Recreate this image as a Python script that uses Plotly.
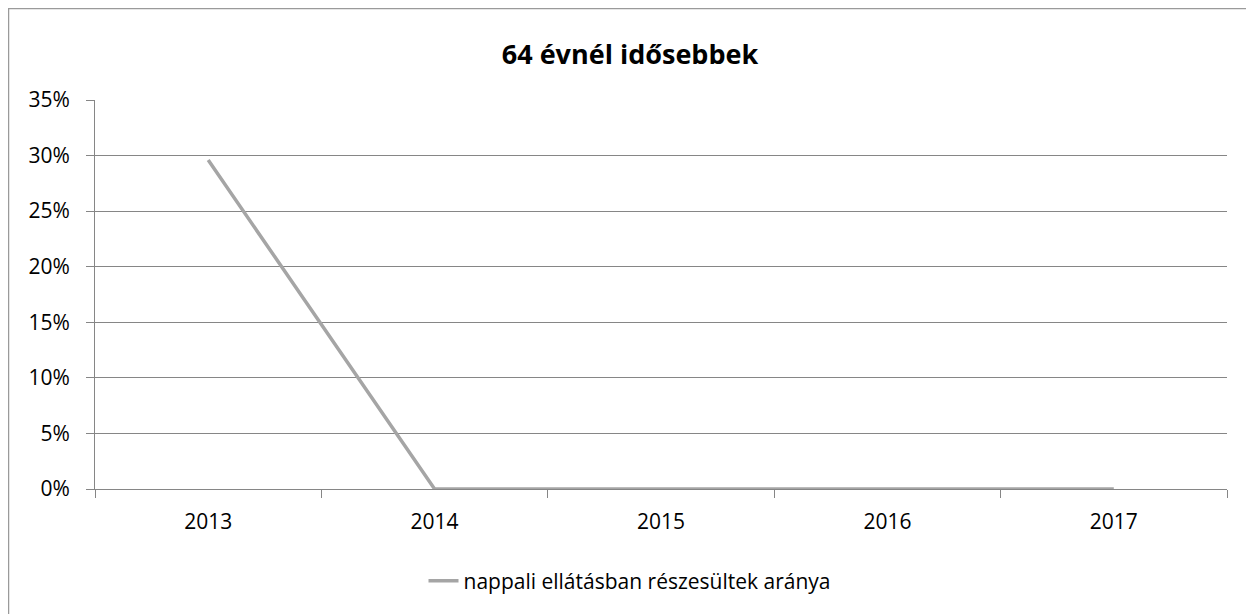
import plotly.graph_objects as go

years = ["2013", "2014", "2015", "2016", "2017"]
values = [0.296, 0.0, 0.0, 0.0, 0.0]
series_name = "nappali ellátásban részesültek aránya"
title = "64 évnél idősebbek"
y_ticks = [0, 0.05, 0.10, 0.15, 0.20, 0.25, 0.30, 0.35]

# page has an 8px body margin; figure coordinates are page coordinates - 8
W, H = 1246, 606
L, T = 87, 92
pw, ph = 1132, 389
R, B = W - L - pw, H - T - ph
bottom = T + ph

font = "Open Sans, Noto Sans, sans-serif"
tick_size = 21

fig = go.Figure()
fig.add_trace(go.Scatter(
    x=years, y=values, mode="lines", name=series_name,
    line=dict(color="#A5A5A5", width=3.5),
))

fig.update_layout(
    width=W, height=H,
    margin=dict(l=L, r=R, t=T, b=B, autoexpand=False),
    paper_bgcolor="white", plot_bgcolor="white",
    title=dict(text="<b>" + title + "</b>", x=622 / W, xanchor="center",
               y=1 - 47 / H, yanchor="middle",
               font=dict(family=font, size=27, color="black")),
    showlegend=True,
    legend=dict(orientation="h", x=(622 - L) / pw, xanchor="center",
                y=(bottom - 573) / ph, yanchor="middle",
                font=dict(family=font, size=tick_size, color="black"),
                bgcolor="rgba(0,0,0,0)"),
    font=dict(family=font, size=tick_size, color="black"),
)

fig.update_xaxes(
    type="category", tickson="boundaries", ticks="outside", ticklen=8,
    tickcolor="#868686", showline=True, linecolor="#868686", linewidth=1,
    showgrid=False, tickfont=dict(family=font, size=tick_size, color="black"),
    range=[-0.5, 4.5], ticklabelstandoff=14,
)
fig.update_yaxes(
    range=[0, 0.35], tickvals=y_ticks, tickformat=".0%",
    ticks="outside", ticklen=8, tickcolor="#868686",
    showline=True, linecolor="#868686", linewidth=1,
    showgrid=True, gridcolor="#868686", gridwidth=1, zeroline=False,
    tickfont=dict(family=font, size=tick_size, color="black"),
    ticklabelstandoff=12,
)

# outer chart border (left and top edges visible)
fig.add_shape(type="rect", xref="paper", yref="paper",
              x0=(0.5 - L) / pw, x1=(1400 - L) / pw,
              y0=(bottom - 700) / ph, y1=(bottom - 0.5) / ph,
              line=dict(color="#9A9A9A", width=1.5), fillcolor="rgba(0,0,0,0)",
              layer="below")

fig.write_html("out.html")
